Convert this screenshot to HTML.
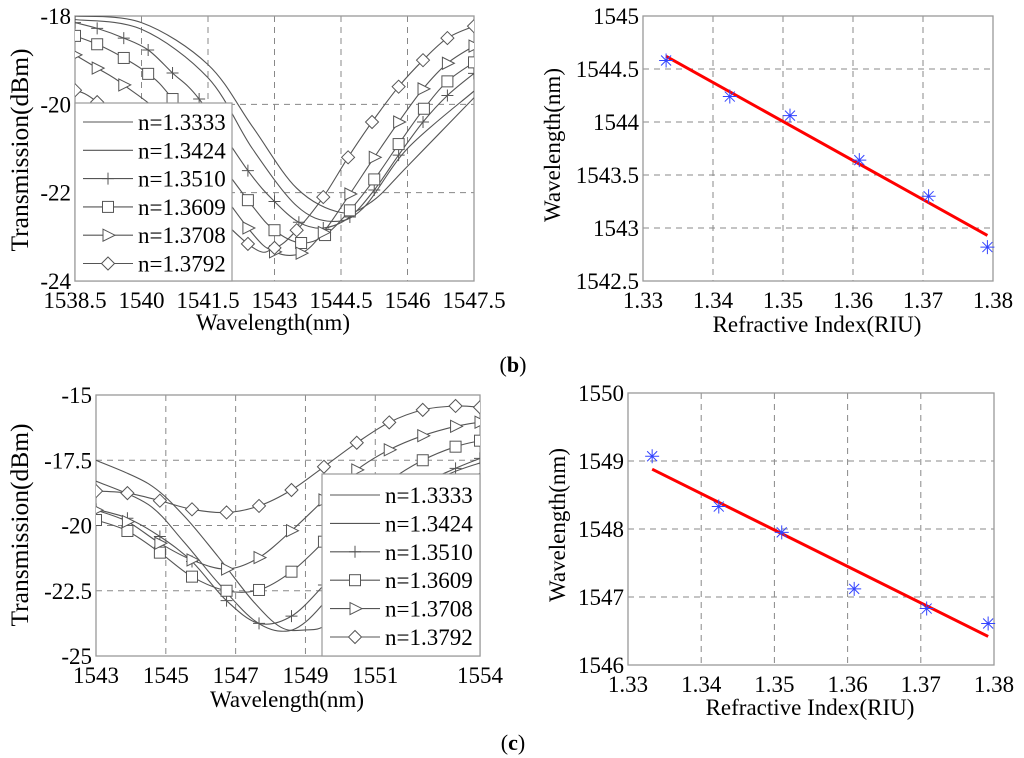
<!DOCTYPE html>
<html><head><meta charset="utf-8">
<style>
html,body{margin:0;padding:0;background:#fff;}
svg{display:block;font-family:"Liberation Serif","Times New Roman",serif;}
text{font-family:"Liberation Serif","Times New Roman",serif;}
</style></head>
<body>
<svg id="root" width="1024" height="758" viewBox="0 0 1024 758" xmlns="http://www.w3.org/2000/svg">
<text x="513" y="372" font-size="22" text-anchor="middle" font-family="Liberation Serif, serif">(<tspan font-weight="bold">b</tspan>)</text>
<text x="513" y="750" font-size="22" text-anchor="middle" font-family="Liberation Serif, serif">(<tspan font-weight="bold">c</tspan>)</text>
</svg>
<script>
// ---------- DATA ----------
const legendLabels = ["n=1.3333","n=1.3424","n=1.3510","n=1.3609","n=1.3708","n=1.3792"];
const markerTypes = ["none","none","plus","square","tri","diamond"];

// Panel b - transmission spectra [wavelength, dBm]
const b_s1333 = [[1538.5,-18.0],[1540,-18.15],[1541.5,-19.1],[1542.5,-20.5],[1543.5,-21.9],[1544.5,-22.45],[1545.2,-22.2],[1546,-21.4],[1547.5,-19.85]];
const b_s1342 = [[1538.5,-18.08],[1540,-18.3],[1541.5,-19.4],[1542.5,-21.0],[1543.5,-22.3],[1544.3,-22.65],[1545,-22.35],[1546,-21.0],[1547.5,-19.7]];
const b_s1351 = [[1538.5,-18.15],[1539.0,-18.28],[1539.6,-18.5],[1540.15,-18.77],[1540.7,-19.29],[1541.3,-19.88],[1542.4,-21.5],[1543.0,-22.2],[1543.55,-22.67],[1544.1,-22.8],[1544.7,-22.55],[1545.25,-21.94],[1545.8,-21.15],[1546.35,-20.4],[1546.9,-19.8],[1547.5,-19.3]];
const b_s1361 = [[1538.5,-18.45],[1539.0,-18.64],[1539.6,-18.95],[1540.15,-19.31],[1540.7,-19.88],[1542.4,-22.17],[1543.0,-22.85],[1543.6,-23.14],[1544.14,-22.96],[1544.7,-22.4],[1545.25,-21.7],[1545.8,-20.9],[1546.37,-20.1],[1546.9,-19.48],[1547.5,-19.05]];
const b_s1371 = [[1538.5,-18.88],[1539.0,-19.18],[1539.6,-19.56],[1540.7,-20.5],[1542.4,-22.8],[1543.0,-23.34],[1543.6,-23.37],[1544.1,-22.9],[1544.7,-22.03],[1545.25,-21.2],[1545.8,-20.4],[1546.35,-19.65],[1546.9,-19.07],[1547.5,-18.68]];
const b_s1379 = [[1538.5,-19.68],[1539.0,-19.95],[1540.5,-21.3],[1542.4,-23.16],[1543.0,-23.25],[1543.5,-22.85],[1544.1,-22.1],[1544.66,-21.2],[1545.2,-20.4],[1545.8,-19.6],[1546.35,-19.0],[1546.9,-18.5],[1547.5,-18.23]];
const bXTicks = ["1538.5","1540","1541.5","1543","1544.5","1546","1547.5"];
const bYTicks = ["-18","-20","-22","-24"];

// Panel c - transmission spectra
const c_s1333 = [[1543,-17.5],[1544.5,-18.4],[1545.5,-19.6],[1546.5,-21.2],[1547.5,-22.9],[1548.3,-23.9],[1549,-24.0],[1549.6,-23.8],[1550.5,-22.6],[1551.5,-20.6],[1552.5,-19.2],[1553.3,-18.5],[1554,-18.0]];
const c_s1342 = [[1543,-18.3],[1544.5,-19.2],[1545.5,-20.6],[1546.5,-22.2],[1547.5,-23.6],[1548.3,-24.05],[1549,-23.7],[1550,-22.2],[1551,-20.4],[1552,-19.0],[1553,-18.1],[1554,-17.6]];
const c_s1351 = [[1543,-19.38],[1543.9,-19.72],[1544.83,-20.42],[1545.75,-21.38],[1546.74,-22.88],[1547.67,-23.75],[1548.6,-23.47],[1549.53,-22.28],[1550.5,-20.8],[1551.5,-19.4],[1552.4,-18.4],[1553.3,-17.81],[1554,-17.43]];
const c_s1361 = [[1543,-19.79],[1543.9,-20.21],[1544.83,-21.04],[1545.75,-21.96],[1546.74,-22.5],[1547.67,-22.47],[1548.6,-21.77],[1549.53,-20.62],[1550.47,-19.4],[1551.4,-18.3],[1552.36,-17.5],[1553.3,-16.98],[1554,-16.75]];
const c_s1371 = [[1543,-19.41],[1543.9,-19.85],[1544.83,-20.68],[1545.75,-21.32],[1546.74,-21.67],[1547.67,-21.23],[1548.6,-20.2],[1549.53,-19.02],[1550.47,-17.87],[1551.4,-17.1],[1552.36,-16.56],[1553.3,-16.2],[1554,-16.04]];
const c_s1379 = [[1543,-18.68],[1543.9,-18.76],[1544.83,-19.05],[1545.75,-19.38],[1546.74,-19.5],[1547.67,-19.25],[1548.6,-18.64],[1549.53,-17.75],[1550.47,-16.83],[1551.4,-16.05],[1552.36,-15.57],[1553.3,-15.42],[1554,-15.47]];
const cXTicks = ["1543","1545","1547","1549","1551","1554"];
const cYTicks = ["-15","-17.5","-20","-22.5","-25"];

// Sensitivity plots
const riIndex = [1.3333,1.3424,1.3510,1.3609,1.3708,1.3792];
const bDipWavelength = [1544.58,1544.24,1544.06,1543.64,1543.30,1542.82];
const bFitEnds = [1544.62,1542.93];
const cDipWavelength = [1549.07,1548.33,1547.95,1547.12,1546.83,1546.61];
const cFitEnds = [1548.88,1546.42];
const riTicks = ["1.33","1.34","1.35","1.36","1.37","1.38"];
const bWlTicks = ["1545","1544.5","1544","1543.5","1543","1542.5"];
const cWlTicks = ["1550","1549","1548","1547","1546"];

// ---------- DRAWING ----------
const NS="http://www.w3.org/2000/svg";
const FONT="Liberation Serif, Times New Roman, serif";
const root=document.getElementById('root');
function mk(tag,attrs,parent){const e=document.createElementNS(NS,tag);for(const k in attrs)e.setAttribute(k,attrs[k]);if(tag==='text')e.setAttribute('font-family',FONT);(parent||root).appendChild(e);return e;}
function scale(d0,d1,r0,r1){return v=>r0+(v-d0)/(d1-d0)*(r1-r0);}
function smooth(pts){let d="M"+pts[0][0].toFixed(1)+","+pts[0][1].toFixed(1);
 for(let i=0;i<pts.length-1;i++){const p0=pts[i-1]||pts[i],p1=pts[i],p2=pts[i+1],p3=pts[i+2]||p2;
  const c1=[p1[0]+(p2[0]-p0[0])/6,p1[1]+(p2[1]-p0[1])/6],c2=[p2[0]-(p3[0]-p1[0])/6,p2[1]-(p3[1]-p1[1])/6];
  d+=" C"+c1[0].toFixed(1)+","+c1[1].toFixed(1)+" "+c2[0].toFixed(1)+","+c2[1].toFixed(1)+" "+p2[0].toFixed(1)+","+p2[1].toFixed(1);}
 return d;}
function marker(g,type,x,y){const st={fill:"#fff",stroke:"#555","stroke-width":1};let m;
 if(type==="plus"){m=mk('path',{d:`M${x-6},${y}H${x+6}M${x},${y-6}V${y+6}`,stroke:"#555","stroke-width":1,fill:"none"},g);}
 else if(type==="square"){m=mk('rect',Object.assign({x:x-5.5,y:y-5.5,width:11,height:11},st),g);}
 else if(type==="tri"){m=mk('path',Object.assign({d:`M${x-5},${y-6}L${x+7},${y}L${x-5},${y+6}Z`},st),g);}
 else if(type==="diamond"){m=mk('path',Object.assign({d:`M${x},${y-6.5}L${x+6.5},${y}L${x},${y+6.5}L${x-6.5},${y}Z`},st),g);}
 if(m){
 }}
function frame(L,R,T,B,xt,yt,sx,sy,name,xl,yl,xlx,xly,ylx,yly,ylSize){
 const g=mk('g',{});
 
 
 const gg=mk('g',{},g);
 
 
 xt.forEach(t=>{const x=sx(parseFloat(t));if(x>L+1&&x<R-1)mk('line',{x1:x,x2:x,y1:T,y2:B,stroke:"#888","stroke-dasharray":"6,5","stroke-width":1},gg);});
 yt.forEach(t=>{const y=sy(parseFloat(t));if(y>T+1&&y<B-1)mk('line',{x1:L,x2:R,y1:y,y2:y,stroke:"#888","stroke-dasharray":"6,5","stroke-width":1},gg);});
 const ax=mk('rect',{x:L,y:T,width:R-L,height:B-T,fill:"none",stroke:"#999","stroke-width":1.3},g);
 
 
 xt.forEach(t=>{const e=mk('text',{x:sx(parseFloat(t)),y:B+27,"font-size":23,"text-anchor":"middle"},g);e.textContent=t;
  
  });
 yt.forEach(t=>{const e=mk('text',{x:L-4,y:sy(parseFloat(t))+8,"font-size":23,"text-anchor":"end"},g);e.textContent=t;
  
  });
 const xe=mk('text',{x:xlx,y:xly,"font-size":23,"text-anchor":"middle"},g);xe.textContent=xl;
 
 
 const ye=mk('text',{x:ylx,y:yly,"font-size":ylSize,"text-anchor":"middle",transform:`rotate(-90 ${ylx} ${yly})`},g);ye.textContent=yl;
 
 
 return g;}
function spectrum(L,R,T,B,x0,x1,y0,y1,xt,yt,series,name,xlx,xly,ylx,yly,leg){
 const sx=scale(x0,x1,L,R),sy=scale(y0,y1,T,B);
 const g=frame(L,R,T,B,xt,yt,sx,sy,name,"Wavelength(nm)","Transmission(dBm)",xlx,xly,ylx,yly,25.5);
 const clipId=name+"-clip";
 const cp=mk('clipPath',{id:clipId},g);mk('rect',{x:L,y:T,width:R-L,height:B-T},cp);
 series.forEach((s,i)=>{const pts=s.map(p=>[sx(p[0]),sy(p[1])]);
  const sg=mk('g',{"clip-path":`url(#${clipId})`},g);
  
  
  const p=mk('path',{d:smooth(pts),fill:"none",stroke:"#555","stroke-width":1.1},sg);
  
  
  if(markerTypes[i]!=="none")pts.forEach(q=>marker(sg,markerTypes[i],q[0],q[1]));});
 const lg=mk('g',{},g);
 
 
 mk('rect',{x:leg.x,y:leg.y,width:leg.w,height:leg.h,fill:"#fff",stroke:"#999","stroke-width":1.2},lg);
 legendLabels.forEach((lab,i)=>{const y=leg.y+leg.r0+i*leg.dy;
  const e=mk('g',{},lg);
  
  
  mk('line',{x1:leg.x+8,x2:leg.x+58,y1:y,y2:y,stroke:"#555","stroke-width":1.1},e);
  marker(e,markerTypes[i],leg.x+33,y);
  const t=mk('text',{x:leg.x+63,y:y+8,"font-size":23},e);t.textContent=lab;});}
function sensitivity(L,R,T,B,yMin,yMax,yt,vals,fit,name,xlx,xly,ylx,yly){
 const sx=scale(1.33,1.38,L,R),sy=scale(yMax,yMin,T,B);
 const g=frame(L,R,T,B,riTicks,yt,sx,sy,name,"Refractive Index(RIU)","Wavelength(nm)",xlx,xly,ylx,yly,23);
 const ln=mk('line',{x1:sx(riIndex[0]),y1:sy(fit[0]),x2:sx(riIndex[riIndex.length-1]),y2:sy(fit[1]),stroke:"#ff0000","stroke-width":3},g);
 
 
 riIndex.forEach((n,i)=>{const x=sx(n),y=sy(vals[i]);
  const p=mk('path',{d:`M${x-7},${y}H${x+7}M${x},${y-7}V${y+7}M${x-5},${y-5}L${x+5},${y+5}M${x-5},${y+5}L${x+5},${y-5}`,stroke:"#3344ff","stroke-width":1},g);
  
  });}

spectrum(75,474,16,281,1538.5,1547.5,-18,-24,bXTicks,bYTicks,[b_s1333,b_s1342,b_s1351,b_s1361,b_s1371,b_s1379],"chart-b-spectrum",273,330,28,150,{x:75,y:103,w:157,h:178,r0:19,dy:28.3});
spectrum(96,480,395,656,1543,1554,-15,-25,cXTicks,cYTicks,[c_s1333,c_s1342,c_s1351,c_s1361,c_s1371,c_s1379],"chart-c-spectrum",287,707,28,525,{x:322,y:474,w:158,h:182,r0:21,dy:28.4});
sensitivity(643,993,16,281,1542.5,1545,bWlTicks,bDipWavelength,bFitEnds,"chart-b-sensitivity",817,332,560,145);
sensitivity(628,994,393,665,1546,1550,cWlTicks,cDipWavelength,cFitEnds,"chart-c-sensitivity",810,715,565,525);
</script>
</body></html>
